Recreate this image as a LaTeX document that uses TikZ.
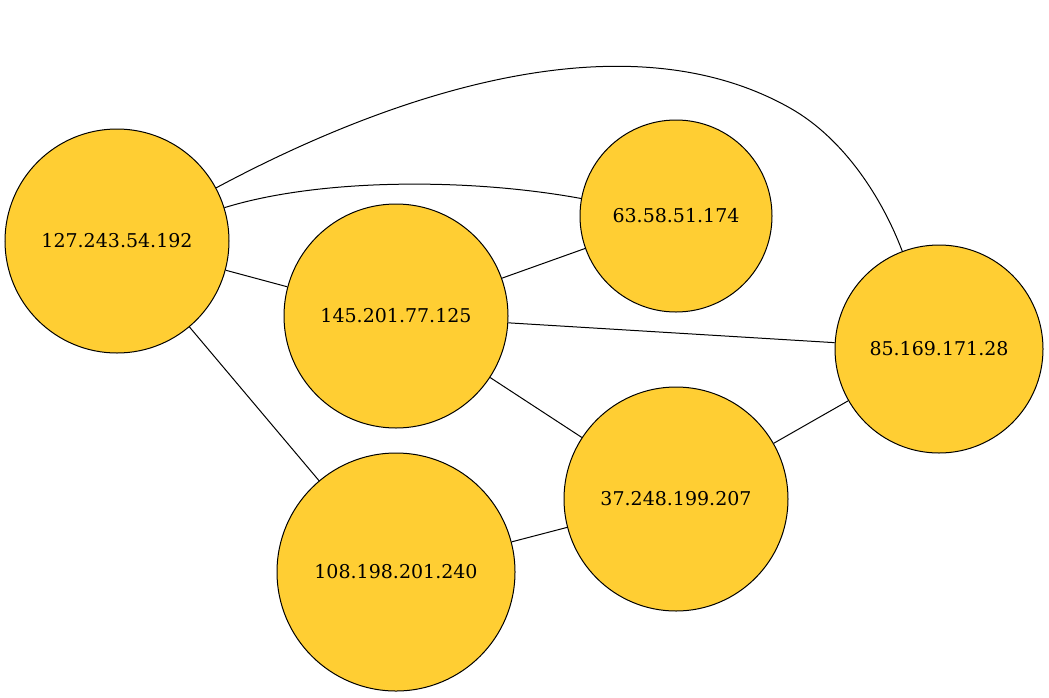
\documentclass[tikz,border=0pt]{standalone}
\usepackage{fontspec}
\setmainfont{DejaVu Serif}
\definecolor{nodefill}{RGB}{255,206,51}
\begin{document}
\begin{tikzpicture}[x=1pt,y=-1pt,
  host/.style={circle,draw=black,fill=nodefill,line width=1pt,inner sep=0pt,font=\fontsize{19}{22}\selectfont},
  link/.style={draw=black,line width=1pt}]
\useasboundingbox (0,0) rectangle (1049,697);
\node[host,minimum size=224pt] (a) at (117,241) {127.243.54.192};
\node[host,minimum size=192pt] (b) at (676,216) {63.58.51.174};
\node[host,minimum size=224pt] (c) at (396,316) {145.201.77.125};
\node[host,minimum size=208pt] (d) at (939,349) {85.169.171.28};
\node[host,minimum size=224pt] (e) at (676,499) {37.248.199.207};
\node[host,minimum size=238pt] (f) at (396,572) {108.198.201.240};
\draw[link] (a) .. controls (320,178) and (470,178) .. (b);
\coordinate (m) at (790,108);
\draw[link] (a) .. controls (380,100) and (620,12) .. (m) .. controls (845,139) and (883,200) .. (d);
\draw[link] (a) -- (c);
\draw[link] (a) -- (f);
\draw[link] (c) -- (b);
\draw[link] (c) -- (d);
\draw[link] (c) -- (e);
\draw[link] (e) -- (d);
\draw[link] (f) -- (e);
\end{tikzpicture}
\end{document}
